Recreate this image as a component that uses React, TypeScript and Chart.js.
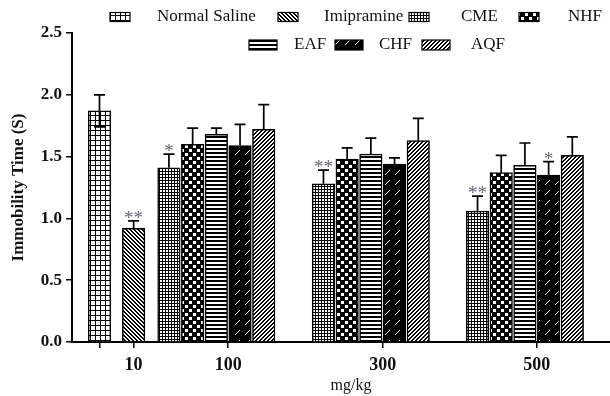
import React, { useEffect, useRef } from 'react';
import { Chart, registerables } from 'chart.js';

Chart.register(...registerables);

// ---------- data ----------
const doseLabels = ['', '10', '100', '300', '500'];
const seriesNames = ['Normal Saline', 'Imipramine', 'CME', 'NHF', 'EAF', 'CHF', 'AQF'];

const normalSaline = [1.87];
const normalSalineErr = [0.13];
const imipramine = [0.92];
const imipramineErr = [0.06];

const extractDoses = ['100', '300', '500'];
const cme = [1.41, 1.28, 1.06];
const cmeErr = [0.11, 0.11, 0.12];
const nhf = [1.6, 1.48, 1.37];
const nhfErr = [0.13, 0.09, 0.14];
const eaf = [1.68, 1.52, 1.43];
const eafErr = [0.05, 0.13, 0.18];
const chf = [1.59, 1.44, 1.35];
const chfErr = [0.17, 0.05, 0.11];
const aqf = [1.72, 1.63, 1.51];
const aqfErr = [0.2, 0.18, 0.15];

const imipramineSig = ['**'];
const cmeSig = ['*', '**', '**'];
const chfSig = ['', '', '*'];

const yTicks = [0, 0.5, 1.0, 1.5, 2.0, 2.5];

// ---------- layout (not data) ----------
const FONT = "'Liberation Serif', 'Times New Roman', serif";
const tickPositions = [0, 1.44, 5.43, 11.95, 18.45]; // x-scale units, one per dose label
const legendLayout = [
  { box: 110, text: 157, y: 17, w: 20, h: 9 },
  { box: 278, text: 324, y: 17, w: 20, h: 9 },
  { box: 409, text: 461, y: 17, w: 20, h: 9 },
  { box: 519, text: 568, y: 17, w: 20, h: 9 },
  { box: 249, text: 294, y: 45, w: 28, h: 10 },
  { box: 335, text: 379, y: 45, w: 28, h: 10 },
  { box: 422, text: 471, y: 45, w: 28, h: 10 },
];

type Series = {
  name: string; doses: string[]; values: number[]; errors: number[];
  marks: string[]; slot: number; lowerBar: boolean;
};

const seriesList: Series[] = [
  { name: seriesNames[0], doses: [''], values: normalSaline, errors: normalSalineErr, marks: [''], slot: -1, lowerBar: true },
  { name: seriesNames[1], doses: ['10'], values: imipramine, errors: imipramineErr, marks: imipramineSig, slot: -1, lowerBar: false },
  { name: seriesNames[2], doses: extractDoses, values: cme, errors: cmeErr, marks: cmeSig, slot: 0, lowerBar: false },
  { name: seriesNames[3], doses: extractDoses, values: nhf, errors: nhfErr, marks: [], slot: 1, lowerBar: false },
  { name: seriesNames[4], doses: extractDoses, values: eaf, errors: eafErr, marks: [], slot: 2, lowerBar: false },
  { name: seriesNames[5], doses: extractDoses, values: chf, errors: chfErr, marks: chfSig, slot: 3, lowerBar: false },
  { name: seriesNames[6], doses: extractDoses, values: aqf, errors: aqfErr, marks: [], slot: 4, lowerBar: false },
];

function xFor(dose: string, slot: number) {
  const base = tickPositions[doseLabels.indexOf(dose)];
  return slot < 0 ? base : base + slot - 2.5;
}

function makePattern(w: number, h: number, draw: (g: CanvasRenderingContext2D) => void) {
  const c = document.createElement('canvas');
  c.width = w;
  c.height = h;
  const g = c.getContext('2d')!;
  draw(g);
  return g.createPattern(c, 'repeat') as CanvasPattern;
}

function buildPatterns(): CanvasPattern[] {
  const px = (g: CanvasRenderingContext2D, x: number, y: number, w = 1, h = 1) => g.fillRect(x, y, w, h);
  return [
    // Normal Saline: white cells, black grid
    makePattern(5, 5, (g) => {
      g.fillStyle = '#fff'; g.fillRect(0, 0, 5, 5);
      g.fillStyle = '#000'; px(g, 0, 0, 5, 1); px(g, 0, 0, 1, 5);
    }),
    // Imipramine: fine "\" hatching
    makePattern(4, 4, (g) => {
      g.fillStyle = '#fff'; g.fillRect(0, 0, 4, 4);
      g.fillStyle = '#000';
      for (let i = 0; i < 4; i++) { px(g, i, i); px(g, (i + 1) % 4, i); }
    }),
    // CME: fine grid of small white squares
    makePattern(3, 3, (g) => {
      g.fillStyle = '#fff'; g.fillRect(0, 0, 3, 3);
      g.fillStyle = '#000'; px(g, 0, 0, 3, 1); px(g, 0, 0, 1, 3);
    }),
    // NHF: black with white checker squares
    makePattern(8, 8, (g) => {
      g.fillStyle = '#000'; g.fillRect(0, 0, 8, 8);
      g.fillStyle = '#fff'; px(g, 1, 1, 3, 3); px(g, 5, 5, 3, 3);
    }),
    // EAF: horizontal stripes
    makePattern(1, 4, (g) => {
      g.fillStyle = '#000'; g.fillRect(0, 0, 1, 4);
      g.fillStyle = '#fff'; px(g, 0, 2, 1, 2);
    }),
    // CHF: black with short white "/" dashes
    makePattern(10, 10, (g) => {
      g.fillStyle = '#000'; g.fillRect(0, 0, 10, 10);
      g.fillStyle = '#fff';
      for (let k = 0; k < 5; k++) px(g, 9 - k, k);
    }),
    // AQF: fine "/" hatching
    makePattern(4, 4, (g) => {
      g.fillStyle = '#fff'; g.fillRect(0, 0, 4, 4);
      g.fillStyle = '#000';
      for (let i = 0; i < 4; i++) { px(g, 3 - i, i); px(g, (4 - i) % 4, i); }
    }),
  ];
}

export default function App() {
  const ref = useRef<HTMLCanvasElement>(null);

  useEffect(() => {
    const canvas = ref.current!;
    const patterns = buildPatterns();

    const errorBars = {
      id: 'errorBars',
      afterDatasetsDraw(chart: any) {
        const { ctx } = chart;
        const y = chart.scales.y;
        ctx.save();
        ctx.strokeStyle = '#000';
        ctx.lineWidth = 1.7;
        seriesList.forEach((s, di) => {
          const meta = chart.getDatasetMeta(di);
          s.values.forEach((v, i) => {
            const el = meta.data[i];
            if (!el) return;
            const x = el.x;
            const top = y.getPixelForValue(v + s.errors[i]);
            const base = y.getPixelForValue(v);
            const bot = y.getPixelForValue(v - s.errors[i]);
            ctx.beginPath();
            ctx.moveTo(x, s.lowerBar ? bot : base);
            ctx.lineTo(x, top);
            ctx.moveTo(x - 5.5, top);
            ctx.lineTo(x + 5.5, top);
            if (s.lowerBar) {
              ctx.moveTo(x - 5.5, bot);
              ctx.lineTo(x + 5.5, bot);
            }
            ctx.stroke();
            const mark = s.marks[i];
            if (mark) {
              ctx.fillStyle = '#6e5f78';
              ctx.font = `19px ${FONT}`;
              ctx.textAlign = 'center';
              ctx.textBaseline = 'alphabetic';
              ctx.fillText(mark, x, top + 3);
            }
          });
        });
        ctx.restore();
      },
    };

    const legendAndTitle = {
      id: 'legendAndTitle',
      afterDraw(chart: any) {
        const { ctx } = chart;
        ctx.save();
        seriesList.forEach((s, i) => {
          const L = legendLayout[i];
          ctx.fillStyle = patterns[i];
          ctx.fillRect(L.box, L.y - L.h / 2, L.w, L.h);
          ctx.strokeStyle = '#000';
          ctx.lineWidth = 1.2;
          ctx.strokeRect(L.box, L.y - L.h / 2, L.w, L.h);
          ctx.fillStyle = '#111';
          ctx.font = `17px ${FONT}`;
          ctx.textAlign = 'left';
          ctx.textBaseline = 'middle';
          ctx.fillText(s.name, L.text, L.y);
        });
        ctx.fillStyle = '#111';
        ctx.font = `16px ${FONT}`;
        ctx.textAlign = 'center';
        ctx.textBaseline = 'middle';
        ctx.fillText('mg/kg', 351, 386);
        ctx.restore();
      },
    };

    const axisGrid = {
      display: true,
      drawOnChartArea: false,
      drawTicks: true,
      tickLength: 6,
      color: '#000',
      lineWidth: 1.5,
      offset: false,
    };

    const chart = new Chart(canvas, {
      type: 'bar',
      data: {
        datasets: seriesList.map((s, i) => ({
          label: s.name,
          data: s.values.map((v, j) => ({ x: xFor(s.doses[j], s.slot), y: v })),
          backgroundColor: patterns[i],
          borderColor: '#000',
          borderWidth: 1.5,
          barThickness: 22.5,
          grouped: false,
        })),
      },
      options: {
        responsive: false,
        animation: false,
        devicePixelRatio: 1,
        layout: { padding: { left: 0, right: 0, top: 33, bottom: 0 } },
        plugins: {
          legend: { display: false },
          tooltip: { enabled: false },
        },
        scales: {
          x: {
            type: 'linear',
            min: -1.16,
            max: 21.54,
            offset: false,
            afterBuildTicks: (scale: any) => {
              scale.ticks = tickPositions.map((v) => ({ value: v }));
            },
            afterFit: (scale: any) => {
              scale.height = 54;
            },
            ticks: {
              autoSkip: false,
              maxRotation: 0,
              padding: 7,
              color: '#111',
              font: { family: FONT, size: 18, weight: 'bold' },
              callback: (_v: any, i: number) => doseLabels[i],
            },
            grid: axisGrid,
            border: { display: true, color: '#000', width: 2 },
          },
          y: {
            min: yTicks[0],
            max: yTicks[yTicks.length - 1],
            afterBuildTicks: (scale: any) => {
              scale.ticks = yTicks.map((v) => ({ value: v }));
            },
            afterFit: (scale: any) => {
              scale.width = 72;
            },
            ticks: {
              padding: 4,
              color: '#111',
              font: { family: FONT, size: 17, weight: 'bold' },
              callback: (v: any) => Number(v).toFixed(1),
            },
            grid: axisGrid,
            border: { display: true, color: '#000', width: 2 },
            title: {
              display: true,
              text: 'Immobility Time (S)',
              color: '#111',
              font: { family: FONT, size: 17, weight: 'bold' },
              padding: { top: 8, bottom: 0 },
            },
          },
        },
      },
      plugins: [errorBars, legendAndTitle],
    } as any);

    return () => chart.destroy();
  }, []);

  return (
    <div style={{ position: 'fixed', left: 0, top: 0, width: 610, height: 396, background: '#fff' }}>
      <canvas ref={ref} width={610} height={396} style={{ display: 'block', width: 610, height: 396 }} />
    </div>
  );
}
